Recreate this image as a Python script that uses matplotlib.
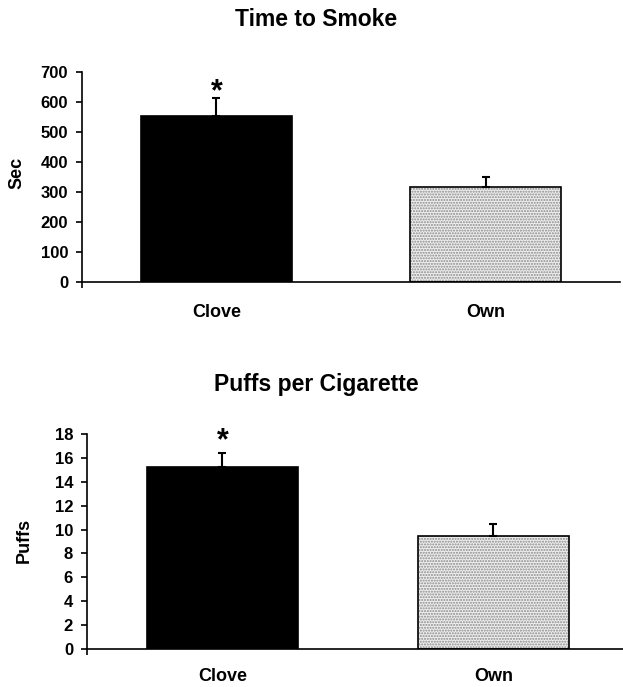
import matplotlib
matplotlib.use("Agg")
import matplotlib.pyplot as plt

categories = ["Clove", "Own"]
time_values = [553, 317]
time_err = [60, 33]
puff_values = [15.2, 9.5]
puff_err = [1.2, 0.95]
time_ticks = [0, 100, 200, 300, 400, 500, 600, 700]
puff_ticks = [0, 2, 4, 6, 8, 10, 12, 14, 16, 18]

plt.rcParams['font.family'] = ['Liberation Sans', 'DejaVu Sans']
plt.rcParams['font.weight'] = 'bold'

W, H = 623, 687
fig = plt.figure(figsize=(W / 100, H / 100), dpi=100)

def panel(rect, values, errs, ticks, ylabel, title, ylim, star_off,
          ylabel_xy, title_xy, xpad):
    ax = fig.add_axes(rect)
    x = list(range(len(categories)))
    w = 0.56
    # stippled fill for "Own"
    ax.bar(x[1], values[1], width=w, color='#eeeeee', hatch='......',
           edgecolor='#8a8a8a', linewidth=0, zorder=2)
    ax.bar(x, values, width=w, color=['black', 'none'], edgecolor='black',
           linewidth=1.2, zorder=3)
    ax.errorbar(x, values, yerr=[[0] * len(errs), errs], fmt='none',
                ecolor='black', elinewidth=1.5, capsize=3, capthick=1.5, zorder=4)
    ax.text(x[0], values[0] + errs[0] + star_off, '*', ha='center', va='bottom',
            fontsize=22, fontweight='bold')
    ax.set_xlim(-0.5, 1.5)
    ax.set_ylim(*ylim)
    ax.set_yticks(ticks)
    ax.set_yticklabels([str(t) for t in ticks], fontsize=12, fontweight='bold')
    ax.set_xticks(x)
    ax.set_xticklabels(categories, fontsize=13, fontweight='bold')
    ax.tick_params(axis='x', length=0, pad=xpad)
    ax.set_xticks([-0.5], minor=True)
    ax.tick_params(axis='x', which='minor', length=4, width=1.2, direction='out')
    ax.tick_params(axis='y', length=4, width=1.2, direction='out', pad=6)
    for s in ['top', 'right']:
        ax.spines[s].set_visible(False)
    for s in ['left', 'bottom']:
        ax.spines[s].set_linewidth(1.2)
    fig.text(ylabel_xy[0] / W, 1 - ylabel_xy[1] / H, ylabel, rotation=90,
             ha='center', va='center', fontsize=13, fontweight='bold')
    fig.text(title_xy[0] / W, 1 - title_xy[1] / H, title,
             ha='center', va='center', fontsize=16.5, fontweight='bold')
    return ax

panel([0.1316, 0.5895, 0.8636, 0.3057], time_values, time_err, time_ticks,
      'Sec', 'Time to Smoke', (0, 700), -29, (17, 173), (316, 19), 16)
panel([0.1396, 0.0553, 0.870, 0.313], puff_values, puff_err, puff_ticks,
      'Puffs', 'Puffs per Cigarette', (0, 18), -0.3, (24, 540), (316, 385), 14)

fig.savefig('out.png', dpi=100)
